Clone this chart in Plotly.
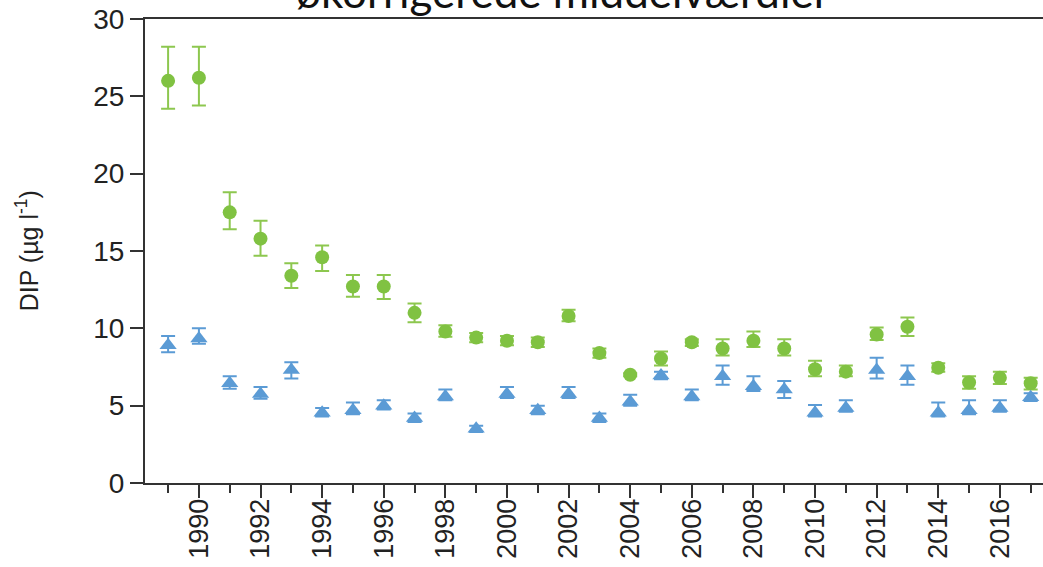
import plotly.graph_objects as go

years = list(range(1989, 2018))

green_mean = [26.0, 26.2, 17.5, 15.8, 13.4, 14.6, 12.7, 12.7, 11.0, 9.8,
              9.4, 9.2, 9.1, 10.8, 8.4, 7.0, 8.05, 9.1, 8.7, 9.2,
              8.7, 7.35, 7.2, 9.6, 10.1, 7.45, 6.5, 6.8, 6.45]
green_upper = [28.2, 28.2, 18.8, 16.95, 14.2, 15.35, 13.45, 13.45, 11.6, 10.2,
               9.7, 9.5, 9.4, 11.2, 8.7, 7.1, 8.5, 9.3, 9.3, 9.8,
               9.3, 7.9, 7.6, 10.05, 10.7, 7.75, 6.9, 7.2, 6.8]
green_lower = [24.2, 24.4, 16.4, 14.7, 12.6, 13.7, 12.05, 11.9, 10.4, 9.45,
               9.1, 8.9, 8.8, 10.45, 8.1, 6.9, 7.6, 8.85, 8.25, 8.8,
               8.25, 6.9, 6.9, 9.25, 9.5, 7.2, 6.1, 6.4, 6.05]

blue_mean = [8.9, 9.35, 6.45, 5.75, 7.3, 4.55, 4.7, 5.0, 4.2, 5.6,
             3.5, 5.75, 4.7, 5.75, 4.2, 5.25, 6.95, 5.6, 6.9, 6.25,
             6.05, 4.55, 4.85, 7.3, 6.9, 4.55, 4.7, 4.85, 5.55]
blue_upper = [9.5, 10.0, 6.9, 6.2, 7.8, 4.85, 5.2, 5.35, 4.5, 6.05,
              3.7, 6.2, 5.0, 6.2, 4.5, 5.7, 7.2, 6.05, 7.6, 6.9,
              6.6, 5.05, 5.35, 8.1, 7.6, 5.2, 5.35, 5.35, 5.8]
blue_lower = [8.45, 9.0, 6.1, 5.45, 6.75, 4.3, 4.45, 4.75, 3.95, 5.35,
              3.3, 5.5, 4.45, 5.5, 3.95, 5.0, 6.7, 5.35, 6.35, 5.95,
              5.5, 4.3, 4.6, 6.75, 6.35, 4.3, 4.45, 4.6, 5.3]

x_tickvals = list(range(1990, 2017, 2))
x_ticktext = [str(v) for v in x_tickvals]
y_tickvals = [0, 5, 10, 15, 20, 25, 30]

title_text = "økorrigerede middelværdier"
y_title = "DIP (µg l<sup>-1</sup>)"

GREEN = "#80c242"
GREEN_ERR = "#8dc74f"
BLUE = "#5b9bd5"

fig = go.Figure()

fig.add_trace(go.Scatter(
    x=years, y=green_mean, mode="markers",
    marker=dict(symbol="circle", size=14, color=GREEN),
    error_y=dict(type="data", symmetric=False,
                 array=[u - m for u, m in zip(green_upper, green_mean)],
                 arrayminus=[m - l for m, l in zip(green_mean, green_lower)],
                 color=GREEN_ERR, thickness=2, width=7),
    showlegend=False,
))

fig.add_trace(go.Scatter(
    x=years, y=blue_mean, mode="markers",
    marker=dict(symbol="triangle-up", size=15, color=BLUE),
    error_y=dict(type="data", symmetric=False,
                 array=[u - m for u, m in zip(blue_upper, blue_mean)],
                 arrayminus=[m - l for m, l in zip(blue_mean, blue_lower)],
                 color=BLUE, thickness=2, width=7),
    showlegend=False,
))

fig.add_annotation(
    text=title_text, xref="paper", yref="paper", x=0.466, y=0.9995,
    xanchor="center", yanchor="bottom", showarrow=False,
    font=dict(family="Lato", size=44, color="#111111"),
)

fig.add_annotation(
    text=y_title, xref="paper", yref="paper", x=-0.131, y=0.5,
    xanchor="center", yanchor="middle", showarrow=False, textangle=-90,
    font=dict(family="Liberation Sans, Arial", size=25, color="#222222"),
)

fig.update_layout(
    width=1043, height=567,
    margin=dict(l=145, r=0, t=19, b=84),
    paper_bgcolor="white", plot_bgcolor="white",
    font=dict(family="Liberation Sans, Arial", color="#222222"),
    xaxis=dict(
        range=[1988.25, 2017.4], automargin=False,
        tickmode="array", tickvals=x_tickvals, ticktext=x_ticktext,
        tickangle=-90, ticks="outside", ticklen=13, tickwidth=2,
        ticklabelstandoff=-10,
        tickcolor="#333333", tickfont=dict(size=27, color="#222222"),
        minor=dict(tickmode="array", tickvals=list(range(1989, 2018, 2)),
                   ticks="outside", ticklen=8, tickwidth=2, tickcolor="#333333"),
        showline=True, linecolor="#333333", linewidth=2, mirror=True,
        showgrid=False, zeroline=False,
    ),
    yaxis=dict(
        range=[0, 30], tickvals=y_tickvals, automargin=False,
        ticks="outside", ticklen=13, tickwidth=2, tickcolor="#333333",
        tickfont=dict(size=28, color="#222222"),
        showline=True, linecolor="#333333", linewidth=2,
        showgrid=False, zeroline=False,
    ),
)

fig.write_html(
    "out.html",
    config={"displayModeBar": False},
    post_script="document.body.style.margin='0';document.body.style.overflow='hidden';",
)
